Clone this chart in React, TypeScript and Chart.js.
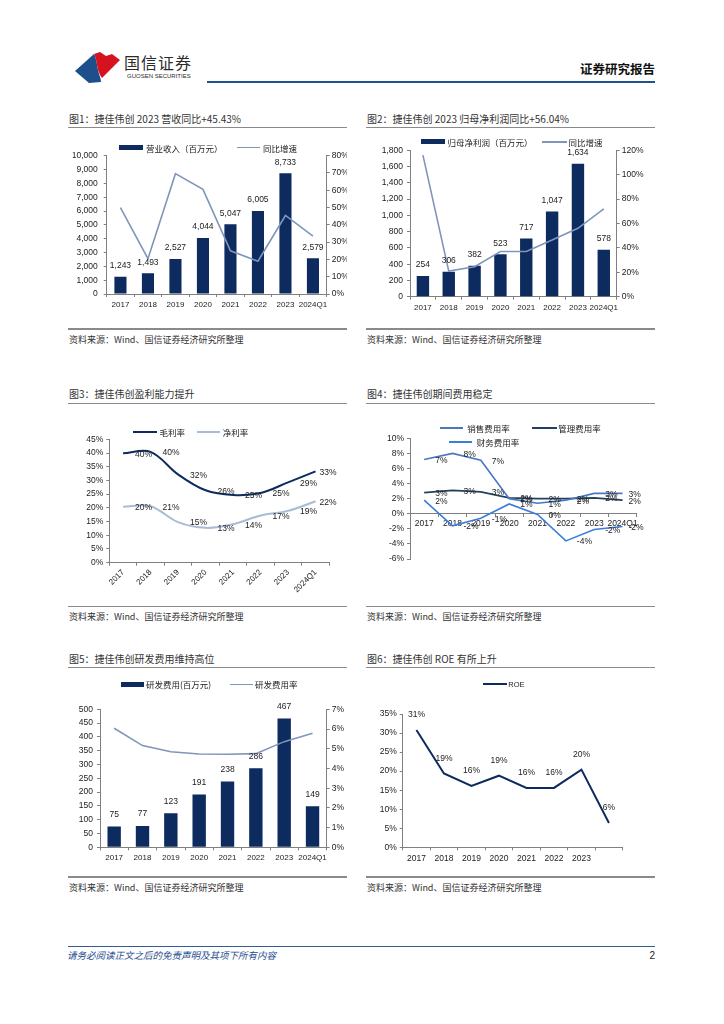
import React, { useEffect, useRef } from 'react';
import { Chart, registerables } from 'chart.js';
Chart.register(...registerables);

// ---------------- data ----------------
const years = ['2017', '2018', '2019', '2020', '2021', '2022', '2023', '2024Q1'];
const revenue = [1243, 1493, 2527, 4044, 5047, 6005, 8733, 2579];
const revenueGrowth = [50.0, 20.4, 69.6, 60.5, 25.0, 19.0, 45.43, 33.5];
const netProfit = [254, 306, 382, 523, 717, 1047, 1634, 578];
const netProfitGrowth = [116, 21, 24.6, 37, 37, 46.5, 56.04, 72];
const grossMargin = [39.9, 40.4, 32.2, 26.4, 24.7, 25.4, 29.3, 33.3];
const netMargin = [20.4, 20.6, 14.8, 12.7, 14.0, 17.2, 18.9, 22.4];
const salesRate = [7.2, 8.0, 7.1, 2.0, 1.4, 1.8, 2.7, 2.7];
const adminRate = [2.8, 3.1, 2.9, 2.1, 2.0, 2.0, 2.1, 1.8];
const financeRate = [1.8, -1.6, -0.6, 1.3, -0.1, -3.6, -2.1, -1.7];
const rdExpense = [75, 77, 123, 191, 238, 286, 467, 149];
const rdRate = [6.04, 5.16, 4.85, 4.73, 4.72, 4.75, 5.36, 5.78];
const roeYears = ['2017', '2018', '2019', '2020', '2021', '2022', '2023', ''];
const roe = [30.8, 19.4, 16.1, 18.8, 15.6, 15.6, 20.4, 6.4];

// ---------------- styles ----------------
const NAVY = '#0D2B5E';
const LINE_GRAY = '#7F96BA';
const LIGHT = '#A8BCD6';
const SALES = '#4A78C0';
const ADMIN = '#23405F';
const FIN = '#3B7DDD';
const AX = '#808080';
const TXT = '#222';
const CJK = "'Noto Sans CJK SC', 'Noto Sans', sans-serif";
const LAT = "'Liberation Sans', Arial, sans-serif";
const tickFont = { family: LAT, size: 8.5 };

const fmtInt = (v: number) => v.toLocaleString('en-US');
const fmtPct = (v: number) => {
  const r = Math.sign(v) * Math.round(Math.abs(v));
  return (r === 0 ? 0 : r) + '%';
};

type LabelSet = { index: number; format: (v: number) => string; dx: number; dy: number; align: CanvasTextAlign; lastDx?: number; size?: number };
function labelPlugin(sets: LabelSet[]) {
  return {
    id: 'dlabels',
    afterDatasetsDraw(chart: any) {
      const ctx = chart.ctx;
      sets.forEach((s) => {
        const meta = chart.getDatasetMeta(s.index);
        const ds = chart.data.datasets[s.index];
        ctx.save();
        ctx.font = `${s.size || 8.5}px ${LAT}`;
        ctx.fillStyle = TXT;
        ctx.textAlign = s.align;
        ctx.textBaseline = 'middle';
        meta.data.forEach((el: any, i: number) => {
          const v = ds.data[i];
          if (v == null) return;
          const last = i === meta.data.length - 1;
          const dx = last && s.lastDx != null ? s.lastDx : s.dx;
          ctx.fillText(s.format(v), el.x + dx, el.y + s.dy);
        });
        ctx.restore();
      });
    },
  };
}

type Rect = { x: number; y: number; w: number; h: number };
type Plot = { l: number; t: number; r: number; b: number };
function pad(c: Rect, p: Plot, wl: number, wr: number, hb: number) {
  return { left: p.l - c.x - wl, right: c.x + c.w - p.r - wr, top: p.t - c.y, bottom: c.y + c.h - p.b - hb };
}

function yScale(position: 'left' | 'right', min: number, max: number, step: number, cb: (v: number) => string, width: number, padding: number) {
  return {
    position,
    min,
    max,
    ticks: { stepSize: step, callback: (v: any) => cb(Number(v)), font: tickFont, color: TXT, padding },
    grid: { display: true, drawOnChartArea: false, drawTicks: true, tickLength: 3, color: AX },
    border: { display: true, color: AX },
    afterFit: (s: any) => { s.width = width; },
  };
}

function xScale(height: number, extra: any = {}) {
  return {
    offset: true,
    grid: { display: true, offset: true, drawOnChartArea: false, drawTicks: true, tickLength: 3, color: AX },
    border: { display: true, color: AX },
    ticks: { font: { family: LAT, size: 8 }, color: TXT, padding: 3, maxRotation: 0, minRotation: 0, autoSkip: false, ...(extra.ticks || {}) },
    afterFit: (s: any) => { s.height = height; },
    ...extra.rest,
  };
}

const baseOpts = (padding: any) => ({
  animation: false,
  responsive: true,
  maintainAspectRatio: false,
  layout: { padding },
  plugins: { legend: { display: false }, tooltip: { enabled: false } },
});

// ---------------- chart configs ----------------
const C1: Rect = { x: 64, y: 131, w: 286, h: 190 };
const P1: Plot = { l: 106.7, t: 155.7, r: 326.7, b: 294 };
function cfg1(): any {
  return {
    type: 'bar',
    data: {
      labels: years,
      datasets: [
        { type: 'line', label: '同比增速', data: revenueGrowth, yAxisID: 'y1', borderColor: LINE_GRAY, borderWidth: 1.6, pointRadius: 0, tension: 0, order: 0 },
        { type: 'bar', label: '营业收入（百万元）', data: revenue, yAxisID: 'y', backgroundColor: NAVY, categoryPercentage: 0.8, barPercentage: 0.55, order: 1 },
      ],
    },
    options: {
      ...baseOpts(pad(C1, P1, 34, 20, 20)),
      scales: {
        x: xScale(20),
        y: yScale('left', 0, 10000, 1000, fmtInt, 34, 6),
        y1: yScale('right', 0, 80, 10, (v) => v + '%', 20, 2),
      },
    },
    plugins: [labelPlugin([{ index: 1, format: fmtInt, dx: 0, dy: -11, align: 'center' }])],
  };
}

const C2: Rect = { x: 362, y: 131, w: 298, h: 190 };
const P2: Plot = { l: 410, t: 150.3, r: 616.7, b: 296.7 };
function cfg2(): any {
  return {
    type: 'bar',
    data: {
      labels: years,
      datasets: [
        { type: 'line', label: '同比增速', data: netProfitGrowth, yAxisID: 'y1', borderColor: LINE_GRAY, borderWidth: 1.6, pointRadius: 0, tension: 0, order: 0 },
        { type: 'bar', label: '归母净利润（百万元）', data: netProfit, yAxisID: 'y', backgroundColor: NAVY, categoryPercentage: 0.8, barPercentage: 0.6, order: 1 },
      ],
    },
    options: {
      ...baseOpts(pad(C2, P2, 40, 28, 20)),
      scales: {
        x: xScale(20),
        y: yScale('left', 0, 1800, 200, fmtInt, 40, 4),
        y1: yScale('right', 0, 120, 20, (v) => v + '%', 28, 2),
      },
    },
    plugins: [labelPlugin([{ index: 1, format: fmtInt, dx: 0, dy: -11, align: 'center' }])],
  };
}

const C3: Rect = { x: 64, y: 408, w: 286, h: 196 };
const P3: Plot = { l: 109.3, t: 439.3, r: 329.3, b: 562.7 };
function cfg3(): any {
  return {
    type: 'line',
    data: {
      labels: years,
      datasets: [
        { label: '毛利率', data: grossMargin, borderColor: NAVY, borderWidth: 2, pointRadius: 0, tension: 0.35 },
        { label: '净利率', data: netMargin, borderColor: LIGHT, borderWidth: 2, pointRadius: 0, tension: 0.35 },
      ],
    },
    options: {
      ...baseOpts(pad(C3, P3, 36, 0, 40)),
      scales: {
        x: xScale(40, { ticks: { maxRotation: 45, minRotation: 45, padding: 2 } }),
        y: yScale('left', 0, 45, 5, (v) => v + '%', 36, 3),
      },
    },
    plugins: [labelPlugin([
      { index: 0, format: fmtPct, dx: 12, dy: 1, align: 'left', lastDx: 4 },
      { index: 1, format: fmtPct, dx: 12, dy: 1, align: 'left', lastDx: 4 },
    ])],
  };
}

const C4: Rect = { x: 362, y: 408, w: 298, h: 196 };
const P4: Plot = { l: 410, t: 438.3, r: 636.7, b: 559 };
function cfg4(): any {
  return {
    type: 'line',
    data: {
      labels: years,
      datasets: [
        { label: '销售费用率', data: salesRate, borderColor: SALES, borderWidth: 1.6, pointRadius: 0, tension: 0 },
        { label: '管理费用率', data: adminRate, borderColor: ADMIN, borderWidth: 1.6, pointRadius: 0, tension: 0 },
        { label: '财务费用率', data: financeRate, borderColor: FIN, borderWidth: 1.6, pointRadius: 0, tension: 0 },
      ],
    },
    options: {
      ...baseOpts(pad(C4, P4, 40, 0, 0)),
      scales: {
        x: {
          position: { y: 0 },
          offset: true,
          grid: { display: true, offset: true, drawOnChartArea: false, drawTicks: true, tickLength: 3, color: AX },
          border: { display: true, color: AX },
          ticks: { font: { family: LAT, size: 8.5 }, color: TXT, padding: 2, maxRotation: 0, minRotation: 0, autoSkip: false },
        },
        y: yScale('left', -6, 10, 2, (v) => v + '%', 40, 3),
      },
    },
    plugins: [labelPlugin([
      { index: 0, format: fmtPct, dx: 11, dy: 1, align: 'left', lastDx: 6 },
      { index: 1, format: fmtPct, dx: 11, dy: 1, align: 'left', lastDx: 6 },
      { index: 2, format: fmtPct, dx: 11, dy: 1, align: 'left', lastDx: 6 },
    ])],
  };
}

const C5: Rect = { x: 64, y: 676, w: 286, h: 196 };
const P5: Plot = { l: 100, t: 709.3, r: 326.7, b: 847.3 };
function cfg5(): any {
  return {
    type: 'bar',
    data: {
      labels: years,
      datasets: [
        { type: 'line', label: '研发费用率', data: rdRate, yAxisID: 'y1', borderColor: LINE_GRAY, borderWidth: 1.6, pointRadius: 0, tension: 0, order: 0 },
        { type: 'bar', label: '研发费用(百万元)', data: rdExpense, yAxisID: 'y', backgroundColor: NAVY, categoryPercentage: 0.8, barPercentage: 0.59, order: 1 },
      ],
    },
    options: {
      ...baseOpts(pad(C5, P5, 30, 18, 18)),
      scales: {
        x: xScale(18),
        y: yScale('left', 0, 500, 50, fmtInt, 30, 4),
        y1: yScale('right', 0, 7, 1, (v) => v + '%', 18, 2),
      },
    },
    plugins: [labelPlugin([{ index: 1, format: fmtInt, dx: 0, dy: -12, align: 'center' }])],
  };
}

const C6: Rect = { x: 362, y: 676, w: 298, h: 196 };
const P6: Plot = { l: 402.7, t: 714, r: 622.7, b: 847.3 };
function cfg6(): any {
  return {
    type: 'line',
    data: {
      labels: roeYears,
      datasets: [
        { label: 'ROE', data: roe, borderColor: NAVY, borderWidth: 2, pointRadius: 0, tension: 0 },
      ],
    },
    options: {
      ...baseOpts(pad(C6, P6, 34, 0, 18)),
      scales: {
        x: xScale(18, { ticks: { font: { family: LAT, size: 8.5 } } }),
        y: yScale('left', 0, 35, 5, (v) => v + '%', 34, 3),
      },
    },
    plugins: [labelPlugin([{ index: 0, format: fmtPct, dx: 0, dy: -15, align: 'center' }])],
  };
}

// ---------------- components ----------------
function ChartBox({ rect, make }: { rect: Rect; make: () => any }) {
  const ref = useRef<HTMLCanvasElement>(null);
  useEffect(() => {
    const chart = new Chart(ref.current as HTMLCanvasElement, make());
    return () => chart.destroy();
  }, []);
  return (
    <div style={{ position: 'absolute', left: rect.x, top: rect.y, width: rect.w, height: rect.h }}>
      <canvas ref={ref} />
    </div>
  );
}

function Txt({ x, y, size, children, color = TXT, weight = 400, italic = false, align = 'left', family = CJK, spacing = 0 }: any) {
  const tx = align === 'left' ? '0' : align === 'right' ? '-100%' : '-50%';
  return (
    <div
      style={{
        position: 'absolute', left: x, top: y, transform: `translate(${tx},-50%)`, fontSize: size, lineHeight: 1.2,
        whiteSpace: 'nowrap', color, fontWeight: weight, fontStyle: italic ? 'italic' : 'normal', fontFamily: family,
        letterSpacing: spacing,
      }}
    >
      {children}
    </div>
  );
}

function Box({ x, y, w, h, color }: any) {
  return <div style={{ position: 'absolute', left: x, top: y, width: w, height: h, background: color }} />;
}

function LineSwatch({ x1, x2, y, color, t = 2 }: any) {
  return <Box x={x1} y={y - t / 2} w={x2 - x1} h={t} color={color} />;
}

function Section({ x1, x2, titleY, ruleY, bottomY, sourceY, title }: any) {
  return (
    <>
      <Txt x={x1 + 1} y={titleY} size={10} color="#333">{title}</Txt>
      <Box x={x1} y={ruleY - 0.75} w={x2 - x1} h={1.5} color="#8a8a8a" />
      <Box x={x1} y={bottomY - 0.75} w={x2 - x1} h={1.5} color="#8a8a8a" />
      <Txt x={x1 + 1} y={sourceY} size={9} color="#333">资料来源：Wind、国信证券经济研究所整理</Txt>
    </>
  );
}

export default function App() {
  return (
    <div style={{ position: 'absolute', left: 0, top: 0, width: 724, height: 1024, background: '#fff', overflow: 'hidden' }}>
      {/* header */}
      <svg style={{ position: 'absolute', left: 0, top: 0 }} width={130} height={95} viewBox="0 0 130 95">
        <path d="M75,71 L94,54 C97,60 97,66 98,70 C99,75 101,78 101,82 L89,83 Z" fill="#1D4F8B" />
        <path d="M94,54 L100,52 L106,56 L112,54 L120,60 L102,78 C100,75 99,73 98,70 C97,66 97,60 94,54 Z" fill="#D5121E" />
      </svg>
      <Txt x={124} y={62.5} size={16} color="#2b2b2b" spacing={1}>国信证券</Txt>
      <Txt x={127} y={77} size={6} color="#2b2b2b" family={LAT}>GUOSEN SECURITIES</Txt>
      <Txt x={655} y={68} size={12.5} weight={700} color="#111" align="right">证券研究报告</Txt>
      <Box x={206.7} y={80.7} w={448.3} h={2} color="#1D5393" />

      {/* sections */}
      <Section x1={68} x2={347} titleY={119} ruleY={127.7} bottomY={329} sourceY={340} title="图1：捷佳伟创 2023 营收同比+45.43%" />
      <Section x1={366} x2={655} titleY={119} ruleY={127.7} bottomY={329} sourceY={340} title="图2：捷佳伟创 2023 归母净利润同比+56.04%" />
      <Section x1={68} x2={347} titleY={394} ruleY={403.3} bottomY={606.5} sourceY={617} title="图3：捷佳伟创盈利能力提升" />
      <Section x1={366} x2={655} titleY={394} ruleY={403.3} bottomY={606.5} sourceY={617} title="图4：捷佳伟创期间费用稳定" />
      <Section x1={68} x2={347} titleY={659.3} ruleY={667.3} bottomY={877} sourceY={888} title="图5：捷佳伟创研发费用维持高位" />
      <Section x1={366} x2={655} titleY={659.3} ruleY={667.3} bottomY={877} sourceY={888} title="图6：捷佳伟创 ROE 有所上升" />

      {/* charts */}
      <ChartBox rect={C1} make={cfg1} />
      <ChartBox rect={C2} make={cfg2} />
      <ChartBox rect={C3} make={cfg3} />
      <ChartBox rect={C4} make={cfg4} />
      <ChartBox rect={C5} make={cfg5} />
      <ChartBox rect={C6} make={cfg6} />

      {/* legends */}
      <Box x={119} y={145.2} w={24} h={5} color={NAVY} />
      <Txt x={146} y={147.7} size={8.5}>营业收入（百万元）</Txt>
      <LineSwatch x1={237} x2={260} y={147.7} color={LINE_GRAY} t={1.6} />
      <Txt x={263} y={147.7} size={8.5}>同比增速</Txt>

      <Box x={421} y={139.3} w={24} h={5} color={NAVY} />
      <Txt x={447.5} y={141.8} size={8.5}>归母净利润（百万元）</Txt>
      <LineSwatch x1={541.7} x2={566.7} y={141.8} color={LINE_GRAY} t={1.6} />
      <Txt x={568.5} y={141.8} size={8.5}>同比增速</Txt>

      <LineSwatch x1={133.3} x2={156.7} y={431.7} color={NAVY} t={2} />
      <Txt x={159.5} y={431.7} size={8.5}>毛利率</Txt>
      <LineSwatch x1={196.7} x2={220} y={431.7} color={LIGHT} t={2} />
      <Txt x={222.7} y={431.7} size={8.5}>净利率</Txt>

      <LineSwatch x1={440} x2={463.3} y={427.7} color={SALES} t={2} />
      <Txt x={467.3} y={427.7} size={8.5}>销售费用率</Txt>
      <LineSwatch x1={531.7} x2={556.7} y={427.7} color={ADMIN} t={2} />
      <Txt x={558.3} y={427.7} size={8.5}>管理费用率</Txt>
      <LineSwatch x1={449.3} x2={471.7} y={441.7} color={FIN} t={2} />
      <Txt x={476.7} y={441.7} size={8.5}>财务费用率</Txt>

      <Box x={120.7} y={681.8} w={23.3} h={5} color={NAVY} />
      <Txt x={146} y={684.3} size={8.5}>研发费用(百万元)</Txt>
      <LineSwatch x1={230} x2={253.3} y={684.3} color={LINE_GRAY} t={1.6} />
      <Txt x={255} y={684.3} size={8.5}>研发费用率</Txt>

      <LineSwatch x1={482.7} x2={506.7} y={684.3} color={NAVY} t={2} />
      <Txt x={508.3} y={684.3} size={7.5} family={LAT}>ROE</Txt>

      {/* footer */}
      <Box x={68} y={945.5} w={587} h={1} color="#2E5E92" />
      <Txt x={67} y={956} size={9.5} italic color="#1F4E8F">请务必阅读正文之后的免责声明及其项下所有内容</Txt>
      <Txt x={655} y={956} size={10} align="right" family={LAT}>2</Txt>
    </div>
  );
}
